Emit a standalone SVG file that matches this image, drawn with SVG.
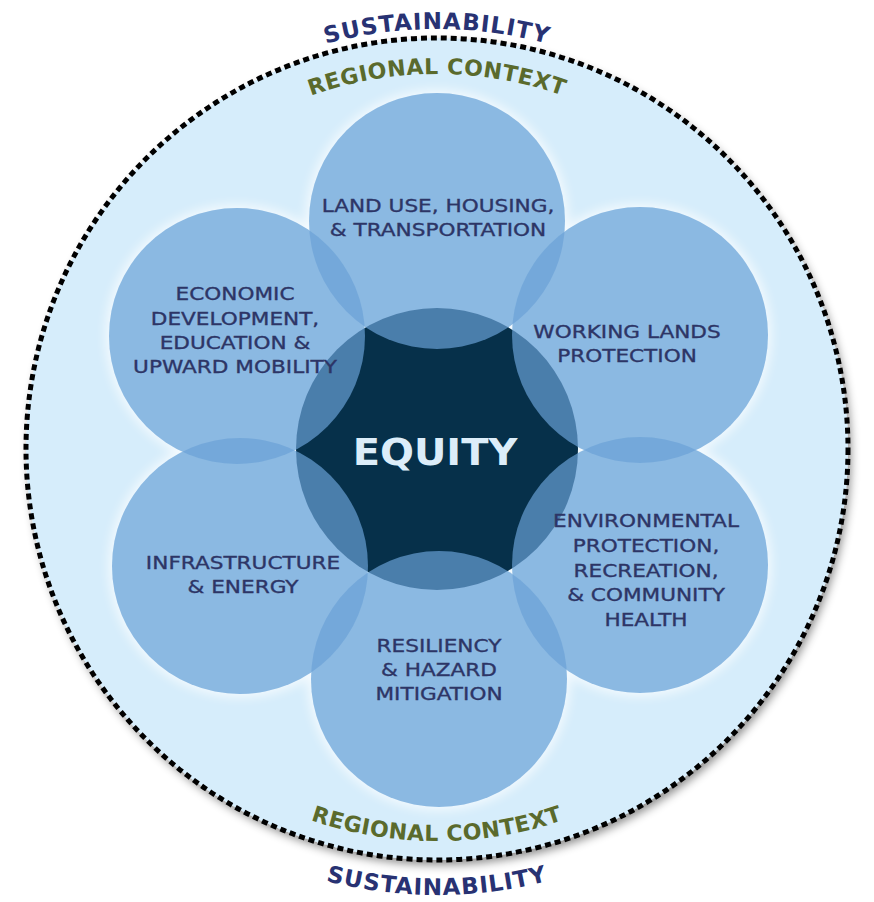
<svg xmlns="http://www.w3.org/2000/svg" width="874" height="902" viewBox="0 0 874 902">
<defs>
<filter id="shadow" x="-10%" y="-10%" width="120%" height="120%">
<feDropShadow dx="3" dy="5" stdDeviation="5" flood-color="#000" flood-opacity="0.45"/>
</filter>
<filter id="glow" x="-20%" y="-20%" width="140%" height="140%">
<feGaussianBlur stdDeviation="6"/>
</filter>
<mask id="outside" maskUnits="userSpaceOnUse" x="0" y="0" width="874" height="902">
<rect width="874" height="902" fill="#fff"/>
<g fill="#000">
<circle cx="437" cy="221" r="128"/>
<circle cx="640" cy="335" r="128"/>
<circle cx="640" cy="565" r="128"/>
<circle cx="439" cy="679" r="128"/>
<circle cx="240" cy="566" r="128"/>
<circle cx="237" cy="336" r="128"/>
</g>
</mask>
<path id="arcSusTop" d="M17,449 A420,420 0 0 1 857,449"/>
<path id="arcRegTop" d="M62,449 A375,375 0 0 1 812,449"/>
<path id="arcRegBot" d="M45,449 A392,392 0 0 0 829,449"/>
<path id="arcSusBot" d="M-9,449 A446,446 0 0 0 883,449"/>
</defs>
<style>
.petal{fill:#6aa1d7;fill-opacity:0.69}
.lbl{font-family:"DejaVu Sans","Liberation Sans",sans-serif;font-size:18px;fill:#2d3566;stroke:#2d3566;stroke-width:0.35;text-anchor:middle}
.sus{font-family:"DejaVu Sans","Liberation Sans",sans-serif;font-weight:bold;font-size:23px;fill:#283273;letter-spacing:1px}
.reg{font-family:"DejaVu Sans","Liberation Sans",sans-serif;font-weight:bold;font-size:22px;fill:#5a6a2c;letter-spacing:0.5px}
</style>
<rect width="874" height="902" fill="#ffffff"/>
<g id="frame">
<circle cx="437" cy="449" r="411" fill="#d6edfb" filter="url(#shadow)"/>
<circle cx="437" cy="449" r="411" fill="none" stroke="#000" stroke-width="5" stroke-dasharray="6 4"/>
<text class="sus"><textPath href="#arcSusTop" startOffset="50%" text-anchor="middle">SUSTAINABILITY</textPath></text>
<text class="reg"><textPath href="#arcRegTop" startOffset="50%" text-anchor="middle">REGIONAL CONTEXT</textPath></text>
<text class="reg"><textPath href="#arcRegBot" startOffset="50%" text-anchor="middle">REGIONAL CONTEXT</textPath></text>
<text class="sus"><textPath href="#arcSusBot" startOffset="50%" text-anchor="middle">SUSTAINABILITY</textPath></text>
</g>
<g mask="url(#outside)">
<g id="glows" fill="#ffffff" opacity="0.75" filter="url(#glow)">
<circle cx="437" cy="221" r="131"/>
<circle cx="640" cy="335" r="131"/>
<circle cx="640" cy="565" r="131"/>
<circle cx="439" cy="679" r="131"/>
<circle cx="240" cy="566" r="131"/>
<circle cx="237" cy="336" r="131"/>
</g>
</g>
<g id="equity">
<circle cx="437" cy="449" r="141" fill="#06304a"/>
<text transform="translate(435,0) scale(1.08,1)" x="0" y="465" font-family="DejaVu Sans, Liberation Sans, sans-serif" font-weight="bold" font-size="37" fill="#dcedf9" text-anchor="middle">EQUITY</text>
</g>
<g id="land-use">
<circle class="petal" cx="437" cy="221" r="128"/>
<g transform="translate(438,0) scale(1.2,1)">
<text class="lbl" x="0" y="212">LAND USE, HOUSING,</text>
<text class="lbl" x="0" y="236">&amp; TRANSPORTATION</text>
</g>
</g>
<g id="working-lands">
<circle class="petal" cx="640" cy="335" r="128"/>
<g transform="translate(627,0) scale(1.2,1)">
<text class="lbl" x="0" y="338">WORKING LANDS</text>
<text class="lbl" x="0" y="362">PROTECTION</text>
</g>
</g>
<g id="environmental">
<circle class="petal" cx="640" cy="565" r="128"/>
<g transform="translate(646,0) scale(1.2,1)">
<text class="lbl" x="0" y="527">ENVIRONMENTAL</text>
<text class="lbl" x="0" y="552">PROTECTION,</text>
<text class="lbl" x="0" y="577">RECREATION,</text>
<text class="lbl" x="0" y="601">&amp; COMMUNITY</text>
<text class="lbl" x="0" y="626">HEALTH</text>
</g>
</g>
<g id="resiliency">
<circle class="petal" cx="439" cy="679" r="128"/>
<g transform="translate(439,0) scale(1.2,1)">
<text class="lbl" x="0" y="652">RESILIENCY</text>
<text class="lbl" x="0" y="676">&amp; HAZARD</text>
<text class="lbl" x="0" y="700">MITIGATION</text>
</g>
</g>
<g id="infrastructure">
<circle class="petal" cx="240" cy="566" r="128"/>
<g transform="translate(243,0) scale(1.2,1)">
<text class="lbl" x="0" y="569">INFRASTRUCTURE</text>
<text class="lbl" x="0" y="593">&amp; ENERGY</text>
</g>
</g>
<g id="economic">
<circle class="petal" cx="237" cy="336" r="128"/>
<g transform="translate(235,0) scale(1.2,1)">
<text class="lbl" x="0" y="300">ECONOMIC</text>
<text class="lbl" x="0" y="325">DEVELOPMENT,</text>
<text class="lbl" x="0" y="349">EDUCATION &amp;</text>
<text class="lbl" x="0" y="373">UPWARD MOBILITY</text>
</g>
</g>
<g id="connectors"/>
</svg>
